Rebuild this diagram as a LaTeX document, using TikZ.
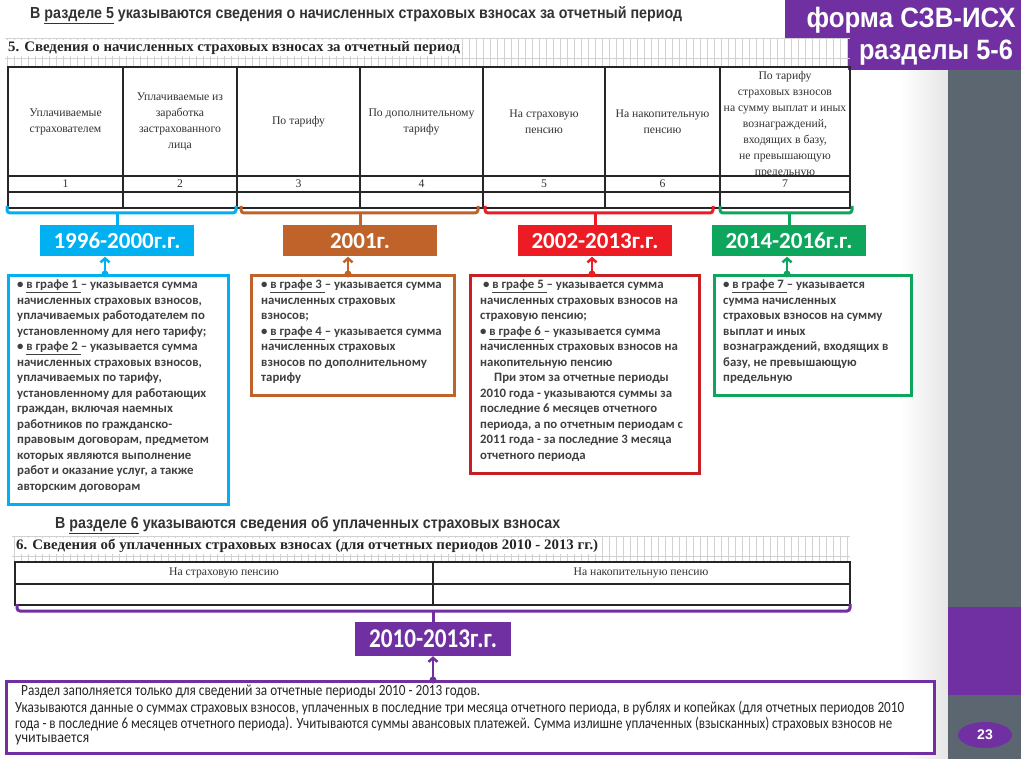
\documentclass[tikz,border=0pt]{standalone}
\usepackage{fontspec}
\usepackage{graphicx}
\setmainfont{Liberation Serif}
\newfontfamily\arialfont{Liberation Sans}
\newfontfamily\calfont{Carlito}
\usetikzlibrary{arrows.meta}
\usetikzlibrary{shapes.geometric}
\definecolor{blueColor}{rgb}{0,0.69,0.94}
\definecolor{brownColor}{rgb}{0.75,0.39,0.17}
\definecolor{redColor}{rgb}{0.93,0.11,0.14}
\definecolor{redColorBis}{rgb}{0.78,0.12,0.14}
\definecolor{greenColor}{rgb}{0.05,0.65,0.36}
\definecolor{purpleColor}{rgb}{0.44,0.19,0.63}
\definecolor{stripeColor}{rgb}{0.36,0.4,0.44}
\definecolor{textColor}{rgb}{0.25,0.25,0.25}
\newcommand{\fitto}[2]{\resizebox{#1}{\height}{#2}}
\newcommand{\grafe}[1]{\underline{#1}}

\begin{document}
\begin{tikzpicture}[x=1pt,y=-1pt]

          \tikzstyle{tableLine} = [line width=1.2pt, black!85];
          \tikzstyle{hatchLine} = [line width=0.4pt, black!18];
          \tikzstyle{headText} = [text=black!80, align=center, inner sep=0pt, font=\fontsize{11.7}{16}\selectfont];
          \tikzstyle{titleText} = [anchor=west, inner sep=1pt, fill=white, text=black!85, font=\bfseries\fontsize{14.5}{14.5}\selectfont];
          \tikzstyle{sectionText} = [anchor=west, inner sep=0pt, text=black!80, font=\arialfont\bfseries\fontsize{16}{16}\selectfont];
          \tikzstyle{boxText} = [text=textColor, align=left, anchor=north west, inner sep=0pt, font=\calfont\bfseries\fontsize{12.8}{15.5}\selectfont];
          \tikzstyle{bottomText} = [anchor=west, inner sep=0pt, text=black!85, font=\calfont\fontsize{15.5}{15.5}\selectfont];

          \tikzstyle{yearLabel} = [text=white, inner sep=0pt, minimum width=154pt, minimum height=31pt, font=\calfont\bfseries\fontsize{23}{23}\selectfont];
          \tikzstyle{infoBox} = [fill=white, line width=3pt, anchor=north west, inner sep=0pt];
          \tikzstyle{dotNode} = [circle, inner sep=0pt, minimum size=7pt];

          \tikzstyle{blueLabel} = [yearLabel, fill=blueColor];
          \tikzstyle{brownLabel} = [yearLabel, fill=brownColor];
          \tikzstyle{redLabel} = [yearLabel, fill=redColor];
          \tikzstyle{greenLabel} = [yearLabel, fill=greenColor];
          \tikzstyle{purpleLabel} = [yearLabel, fill=purpleColor, minimum width=156pt, minimum height=34pt, font=\calfont\bfseries\fontsize{27}{27}\selectfont];

          \tikzstyle{blueEdge} = [line width=3pt, blueColor, rounded corners=3pt];
          \tikzstyle{brownEdge} = [line width=3pt, brownColor, rounded corners=3pt];
          \tikzstyle{redEdge} = [line width=3pt, redColor, rounded corners=3pt];
          \tikzstyle{greenEdge} = [line width=3pt, greenColor, rounded corners=3pt];
          \tikzstyle{purpleEdge} = [line width=3pt, purpleColor, rounded corners=3pt];
          \tikzstyle{arrowEdge} = [line width=2.5pt, -{Straight Barb[length=4pt,width=9pt]}];

          \useasboundingbox (0,0) rectangle (1021,759);
          \fill[white] (0,0) rectangle (1021,759);
          \shade[left color=white, right color=black!10] (900,70) rectangle (948,759);
          \fill[stripeColor] (948,70) rectangle (1021,759);
          \fill[purpleColor] (948,607) rectangle (1021,695);
          \fill[purpleColor] (785,0) rectangle (1021,38);
          \fill[purpleColor] (848,38) rectangle (1021,70);

          \node[text=white, inner sep=0pt, font=\arialfont\bfseries\fontsize{28}{28}\selectfont] (form) at (911,20) {\fitto{209pt}{форма СЗВ-ИСХ}};
          \node[text=white, inner sep=0pt, font=\arialfont\bfseries\fontsize{28}{28}\selectfont] (parts) at (936,53) {\fitto{154pt}{разделы 5-6}};
          \node[ellipse, fill=purpleColor, text=white, minimum width=54pt, minimum height=26pt, inner sep=0pt, font=\arialfont\bfseries\fontsize{14}{14}\selectfont] (page) at (985,735) {23};

          \node[sectionText] (sec5) at (30,15) {\fitto{652pt}{В \underline{разделе 5} указываются сведения о начисленных страховых взносах за отчетный период}};

          % table of section 5
          \draw[hatchLine] (5,38) grid[xstep=7,ystep=1000] (850,67);
          \draw[hatchLine] (5,38) -- (850,38);
          \draw[hatchLine] (5,58) -- (850,58);
          \node[titleText] (title5) at (7,48) {\fitto{452pt}{5. Сведения о начисленных страховых взносах за отчетный период}};

          \draw[tableLine] (8,67) rectangle (850,208);
          \draw[tableLine] (8,176) -- (850,176);
          \draw[tableLine] (8,192) -- (850,192);
          \draw[tableLine] (123,67) -- (123,208);
          \draw[tableLine] (237,67) -- (237,208);
          \draw[tableLine] (360,67) -- (360,208);
          \draw[tableLine] (483,67) -- (483,208);
          \draw[tableLine] (605,67) -- (605,208);
          \draw[tableLine] (720,67) -- (720,208);

          \node[headText] (h1) at (65.5,121.5) {Уплачиваемые\\страхователем};
          \node[headText] (h2) at (180,121.5) {Уплачиваемые из\\заработка\\застрахованного\\лица};
          \node[headText] (h3) at (298.5,121.5) {По тарифу};
          \node[headText] (h4) at (421.5,121.5) {По дополнительному\\тарифу};
          \node[headText] (h5) at (544,121.5) {На страховую\\пенсию};
          \node[headText] (h6) at (662.5,121.5) {На накопительную\\пенсию};
          \begin{scope}
            \clip (721,68) rectangle (849,175);
            \node[headText] (h7) at (785,125) {По тарифу\\страховых взносов\\на сумму выплат и иных\\вознаграждений,\\входящих в базу,\\не превышающую\\предельную};
          \end{scope}

          \node[headText] (n1) at (65.5,184) {1};
          \node[headText] (n2) at (180,184) {2};
          \node[headText] (n3) at (298.5,184) {3};
          \node[headText] (n4) at (421.5,184) {4};
          \node[headText] (n5) at (544,184) {5};
          \node[headText] (n6) at (662.5,184) {6};
          \node[headText] (n7) at (785,184) {7};

          % brackets and year labels
          \coordinate (br1) at (117,213);
          \coordinate (br2) at (360,213);
          \coordinate (br3) at (595,213);
          \coordinate (br4) at (789,213);
          \draw[blueEdge] (7,206) -- (7,213) -- (236,213) -- (236,206);
          \draw[brownEdge] (241,206) -- (241,213) -- (478,213) -- (478,206);
          \draw[redEdge] (485,206) -- (485,213) -- (713,213) -- (713,206);
          \draw[greenEdge] (720,206) -- (720,213) -- (852,213) -- (852,206);

          \node[blueLabel] (lab1) at (117,241) {1996-2000г.г.};
          \node[brownLabel] (lab2) at (360,241) {2001г.};
          \node[redLabel] (lab3) at (595,241) {2002-2013г.г.};
          \node[greenLabel] (lab4) at (789,241) {2014-2016г.г.};

          \draw[blueEdge] (br1) -- (lab1);
          \draw[brownEdge] (br2) -- (lab2);
          \draw[redEdge] (br3) -- (lab3);
          \draw[greenEdge] (br4) -- (lab4);

          % info boxes
          \node[infoBox, draw=blueColor, minimum width=220pt, minimum height=229pt] (box1) at (7,274) {};
          \node[infoBox, draw=brownColor, minimum width=203pt, minimum height=120pt] (box2) at (250,274) {};
          \node[infoBox, draw=redColorBis, minimum width=229pt, minimum height=198pt] (box3) at (469,274) {};
          \node[infoBox, draw=greenColor, minimum width=197pt, minimum height=120pt] (box4) at (713,274) {};

          \node[dotNode, fill=blueColor] (dot1) at (105,274) {};
          \node[dotNode, fill=brownColor] (dot2) at (348,274) {};
          \node[dotNode, fill=redColor] (dot3) at (592,274) {};
          \node[dotNode, fill=greenColor] (dot4) at (787,274) {};

          \draw[arrowEdge, blueColor] (dot1.center) -- (dot1.center |- lab1.south);
          \draw[arrowEdge, brownColor] (dot2.center) -- (dot2.center |- lab2.south);
          \draw[arrowEdge, redColor] (dot3.center) -- (dot3.center |- lab3.south);
          \draw[arrowEdge, greenColor] (dot4.center) -- (dot4.center |- lab4.south);

          \node[boxText] (txt1) at (17,280) {\textbullet\ \grafe{в графе 1 }– указывается сумма\\начисленных страховых взносов,\\уплачиваемых работодателем по\\установленному для него тарифу;\\\textbullet\ \grafe{в графе 2 }– указывается сумма\\начисленных страховых взносов,\\уплачиваемых по тарифу,\\установленному для работающих\\граждан, включая наемных\\работников по гражданско-\\правовым договорам, предметом\\которых являются выполнение\\работ и оказание услуг, а также\\авторским договорам};
          \node[boxText] (txt2) at (261,280) {\textbullet\ \grafe{в графе 3 }– указывается сумма\\начисленных страховых\\взносов;\\\textbullet\ \grafe{в графе 4 }– указывается сумма\\начисленных страховых\\взносов по дополнительному\\тарифу};
          \node[boxText] (txt3) at (480,280) {\ \textbullet\ \grafe{в графе 5 }– указывается сумма\\начисленных страховых взносов на\\страховую пенсию;\\\textbullet\ \grafe{в графе 6 }– указывается сумма\\начисленных страховых взносов на\\накопительную пенсию\\\hspace*{14pt}При этом за отчетные периоды\\2010 года - указываются суммы за\\последние 6 месяцев отчетного\\периода, а по отчетным периодам с\\2011 года - за последние 3 месяца\\отчетного периода};
          \node[boxText] (txt4) at (723,280) {\textbullet\ \grafe{в графе 7 }– указывается\\сумма начисленных\\страховых взносов на сумму\\выплат и иных\\вознаграждений, входящих в\\базу, не превышающую\\предельную};

          % section 6
          \node[sectionText] (sec6) at (55,525) {\fitto{505pt}{В \underline{разделе 6} указываются сведения об уплаченных страховых взносах}};

          \draw[hatchLine] (12,536) grid[xstep=7,ystep=1000] (850,562);
          \draw[hatchLine] (12,536) -- (850,536);
          \draw[hatchLine] (12,556) -- (850,556);
          \node[titleText] (title6) at (15,546) {\fitto{582pt}{6. Сведения об уплаченных страховых взносах (для отчетных периодов 2010 - 2013 гг.)}};

          \draw[tableLine] (15,562) rectangle (850,605);
          \draw[tableLine] (15,584) -- (850,584);
          \draw[tableLine] (433,562) -- (433,605);
          \node[headText] (h8) at (224,573) {На страховую пенсию};
          \node[headText] (h9) at (641,573) {На накопительную пенсию};

          \coordinate (br5) at (433,611);
          \draw[purpleEdge] (17,604) -- (17,611) -- (850,611) -- (850,604);
          \node[purpleLabel] (lab5) at (433,639) {\fitto{128pt}{2010-2013г.г.}};
          \draw[purpleEdge] (br5) -- (lab5);

          \node[infoBox, draw=purpleColor, minimum width=928pt, minimum height=72pt] (box5) at (5,680) {};
          \node[dotNode, fill=purpleColor] (dot5) at (433,680) {};
          \draw[arrowEdge, purpleColor] (dot5.center) -- (dot5.center |- lab5.south);

          \node[bottomText] (bl1) at (21,692) {\fitto{459pt}{Раздел заполняется только для сведений за отчетные периоды 2010 - 2013 годов.}};
          \node[bottomText] (bl2) at (15,708) {\fitto{889pt}{Указываются данные о суммах страховых взносов, уплаченных в последние три месяца отчетного периода, в рублях и копейках (для отчетных периодов 2010}};
          \node[bottomText] (bl3) at (15,724) {\fitto{877pt}{года - в последние 6 месяцев отчетного периода). Учитываются суммы авансовых платежей. Сумма излишне уплаченных (взысканных) страховых взносов не}};
          \node[bottomText] (bl4) at (15,740) {\fitto{74pt}{учитывается}};

        \end{tikzpicture}
\end{document}
